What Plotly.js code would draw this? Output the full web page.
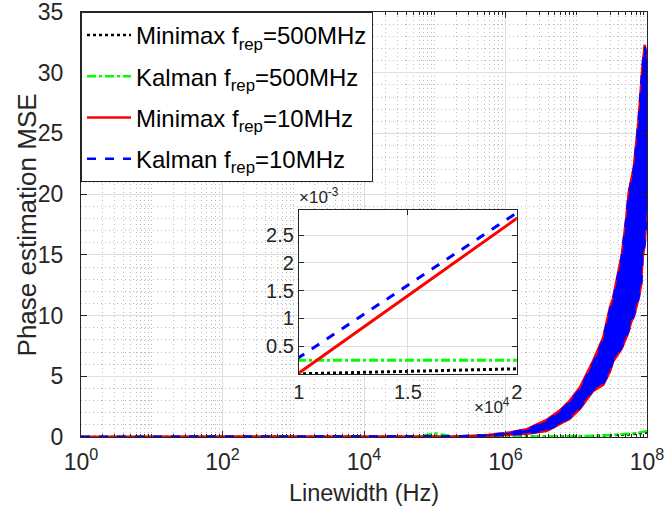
<!DOCTYPE html>
<html>
<head>
<meta charset="utf-8">
<script src="https://cdn.plot.ly/plotly-3.0.1.min.js"></script>
<style>html,body{margin:0;padding:0;background:#fff;}#chart{width:665px;height:522px;}</style>
</head>
<body>
<div id="chart"></div>
<script>
// Linewidth (Hz) sample points
const linewidth = [1, 10, 100, 1e3, 1e4, 2e4, 5e4, 1e5, 2e5, 5e5, 1e6, 2e6, 3.8e6, 5.9e6, 8.1e6, 1.12e7, 1.74e7, 2.4e7, 3.0e7, 3.3e7, 4.4e7, 5.1e7, 5.5e7, 6.0e7, 6.5e7, 7.6e7, 8.3e7, 8.6e7, 9.3e7, 1e8];
// Minimax f_rep=500MHz
const minimax500 = [0, 0, 0, 0, 0.000005, 0.000095, 0.0003, 0.0006, 0.0012, 0.003, 0.006, 0.012, 0.02, 0.03, 0.04, 0.05, 0.08, 0.1, 0.12, 0.13, 0.17, 0.2, 0.21, 0.23, 0.25, 0.29, 0.32, 0.33, 0.36, 0.38];
// Kalman f_rep=500MHz
const kalman500 = [0.00025, 0.00025, 0.00025, 0.00025, 0.00025, 0.00025, 0.00025, 0.3, 0.005, 0.01, 0.015, 0.02, 0.03, 0.04, 0.05, 0.06, 0.09, 0.12, 0.15, 0.16, 0.2, 0.24, 0.26, 0.28, 0.3, 0.36, 0.4, 0.42, 0.46, 0.5];
// Minimax f_rep=10MHz (fluctuating band: lower / upper envelope)
const minimax10Low = [0, 0, 0, 0, 0.00002, 0.0028, 0.006, 0.014, 0.03, 0.08, 0.15, 0.27, 0.5, 1.05, 1.5, 2.3, 3.8, 4.3, 5.4, 6.2, 7.3, 8.2, 8.7, 9.5, 9.9, 11.4, 12.6, 14.6, 15.9, 18.9];
const minimax10High = [0, 0, 0, 0, 0.00002, 0.0028, 0.008, 0.02, 0.05, 0.15, 0.31, 0.65, 1.4, 2.2, 3.0, 4.05, 6.3, 8.2, 10.7, 11.4, 15.0, 18.1, 20.1, 21.2, 22.2, 26.1, 29.1, 30.5, 32.3, 31.2];
// Kalman f_rep=10MHz (fluctuating band: lower / upper envelope)
const kalman10Low = [0, 0, 0, 0, 0.0003, 0.0029, 0.006, 0.015, 0.035, 0.09, 0.18, 0.3, 0.55, 1.1, 1.6, 2.4, 3.9, 4.4, 5.5, 6.3, 7.4, 8.3, 8.8, 9.6, 10, 11.5, 12.7, 14.7, 16, 19];
const kalman10High = [0, 0, 0, 0, 0.0003, 0.0029, 0.008, 0.02, 0.05, 0.14, 0.3, 0.6, 1.3, 2.1, 2.9, 3.9, 6.1, 8.0, 10.5, 11.2, 14.8, 17.9, 19.9, 21, 22, 25.9, 28.9, 30.3, 32.1, 31];

const seriesNames = ['Minimax f<sub>rep</sub>=500MHz', 'Kalman f<sub>rep</sub>=500MHz', 'Minimax f<sub>rep</sub>=10MHz', 'Kalman f<sub>rep</sub>=10MHz'];
const xTickVals = [1, 100, 1e4, 1e6, 1e8];
const xTickText = ['10<sup>0</sup>', '10<sup>2</sup>', '10<sup>4</sup>', '10<sup>6</sup>', '10<sup>8</sup>'];
const yTickVals = [0, 5, 10, 15, 20, 25, 30, 35];
const insetXTickVals = [1e4, 1.5e4, 2e4];
const insetXTickText = ['1', '1.5', '2'];
const insetYTickVals = [0.0005, 0.001, 0.0015, 0.002, 0.0025];
const insetYTickText = ['0.5', '1', '1.5', '2', '2.5'];
const yTitle = 'Phase estimation MSE';
const xTitle = 'Linewidth (Hz)';

const minorX = [];
for (let d = 0; d < 8; d++) for (let k = 2; k <= 10; k++) { if (!(k === 10 && d % 2 === 1)) minorX.push(k * Math.pow(10, d)); }

const BLACK = '#000000', GREEN = '#00ff00', RED = '#ff0000', BLUE = '#0000ff';
const traces = [];
// main
traces.push({x: linewidth, y: minimax500, type: 'scatter', mode: 'lines', name: seriesNames[0], legendgroup: 'a', line: {color: BLACK, width: 2.5, dash: 'dot'}, xaxis: 'x', yaxis: 'y'});
traces.push({x: linewidth, y: kalman500, type: 'scatter', mode: 'lines', name: seriesNames[1], legendgroup: 'b', line: {color: GREEN, width: 2.5, dash: 'dashdot'}, xaxis: 'x', yaxis: 'y'});
traces.push({x: linewidth, y: minimax10Low, type: 'scatter', mode: 'lines', name: seriesNames[2], legendgroup: 'c', line: {color: RED, width: 2.5}, xaxis: 'x', yaxis: 'y'});
traces.push({x: linewidth, y: minimax10High, type: 'scatter', mode: 'lines', showlegend: false, legendgroup: 'c', fill: 'tonexty', fillcolor: RED, line: {color: RED, width: 2.5}, xaxis: 'x', yaxis: 'y'});
traces.push({x: linewidth, y: kalman10Low, type: 'scatter', mode: 'lines', name: seriesNames[3], legendgroup: 'd', line: {color: BLUE, width: 2.5, dash: 'dash'}, xaxis: 'x', yaxis: 'y'});
traces.push({x: linewidth, y: kalman10High, type: 'scatter', mode: 'lines', showlegend: false, legendgroup: 'd', fill: 'tonexty', fillcolor: BLUE, line: {color: BLUE, width: 2.5, dash: 'dash'}, xaxis: 'x', yaxis: 'y'});
// inset
traces.push({x: linewidth, y: minimax500, type: 'scatter', mode: 'lines', showlegend: false, line: {color: BLACK, width: 3, dash: 'dot'}, xaxis: 'x2', yaxis: 'y2'});
traces.push({x: linewidth, y: kalman500, type: 'scatter', mode: 'lines', showlegend: false, line: {color: GREEN, width: 3, dash: 'dashdot'}, xaxis: 'x2', yaxis: 'y2'});
traces.push({x: linewidth, y: minimax10Low, type: 'scatter', mode: 'lines', showlegend: false, line: {color: RED, width: 3}, xaxis: 'x2', yaxis: 'y2'});
traces.push({x: linewidth, y: kalman10Low, type: 'scatter', mode: 'lines', showlegend: false, line: {color: BLUE, width: 3, dash: 'dash'}, xaxis: 'x2', yaxis: 'y2'});

const AX = '#262626';
const FONT = 'Liberation Sans, Arial, sans-serif';
const MINOR_DASH = '1px,3px';
const layout = {
  width: 665, height: 522,
  margin: {l: 81, r: 18, t: 12, b: 85},
  paper_bgcolor: '#ffffff', plot_bgcolor: '#ffffff',
  font: {family: FONT, size: 22, color: AX},
  showlegend: true,
  legend: {x: 0, y: 1, xanchor: 'left', yanchor: 'top', bgcolor: '#ffffff', bordercolor: AX, borderwidth: 1,
           font: {family: FONT, size: 24, color: '#000000'}, tracegroupgap: 7, traceorder: 'grouped', itemwidth: 44},
  xaxis: {type: 'log', range: [0, 8], domain: [0, 1], anchor: 'y',
          tickvals: xTickVals, ticktext: xTickText, ticks: 'inside', ticklen: 6, tickcolor: AX,
          showline: true, linecolor: AX, linewidth: 1, mirror: 'ticks', zeroline: false,
          showgrid: true, gridcolor: '#dedede', gridwidth: 1, ticklabeloverflow: 'allow', ticklabelstandoff: 4,
          tickfont: {family: FONT, size: 23, color: AX},
          title: {text: xTitle, font: {family: FONT, size: 23.5, color: AX}, standoff: 10},
          minor: {tickvals: minorX, ticks: 'inside', ticklen: 3, tickcolor: AX, showgrid: true, gridcolor: '#bdbdbd', griddash: MINOR_DASH, gridwidth: 1}},
  yaxis: {range: [0, 35], domain: [0, 1], anchor: 'x', tickvals: yTickVals,
          ticks: 'inside', ticklen: 6, tickcolor: AX, showline: true, linecolor: AX, linewidth: 1, mirror: 'ticks', zeroline: false,
          showgrid: true, gridcolor: '#dedede', gridwidth: 1, ticklabeloverflow: 'allow', ticklabelstandoff: 12,
          tickfont: {family: FONT, size: 23, color: AX},
          minor: {dtick: 1, ticks: '', showgrid: true, gridcolor: '#bdbdbd', griddash: MINOR_DASH, gridwidth: 1}},
  xaxis2: {range: [1e4, 2e4], domain: [0.385, 0.770], anchor: 'y2', tickvals: insetXTickVals, ticktext: insetXTickText,
           ticks: 'inside', ticklen: 5, tickcolor: AX, showline: true, linecolor: AX, linewidth: 1, mirror: 'ticks', zeroline: false,
           showgrid: true, gridcolor: '#dedede', tickfont: {family: FONT, size: 20, color: AX}},
  yaxis2: {range: [0, 0.00295], domain: [0.148, 0.534], anchor: 'x2', tickvals: insetYTickVals, ticktext: insetYTickText,
           ticks: 'inside', ticklen: 5, tickcolor: AX, showline: true, linecolor: AX, linewidth: 1, mirror: 'ticks', zeroline: false,
           showgrid: true, gridcolor: '#dedede', tickfont: {family: FONT, size: 20, color: AX}},
  annotations: [
    {xref: 'paper', yref: 'paper', x: -0.0955, y: 0.5, xanchor: 'center', yanchor: 'middle', showarrow: false, textangle: -90,
     text: yTitle, font: {family: FONT, size: 26, color: AX}},
    {xref: 'paper', yref: 'paper', x: 0.381, y: 0.536, xanchor: 'left', yanchor: 'bottom', showarrow: false,
     text: '×10<sup>-3</sup>', font: {family: FONT, size: 17, color: AX}},
    {xref: 'paper', yref: 'paper', x: 0.762, y: 0.043, xanchor: 'right', yanchor: 'bottom', showarrow: false,
     text: '×10<sup>4</sup>', font: {family: FONT, size: 17, color: AX}}
  ]
};
Plotly.newPlot('chart', traces, layout, {staticPlot: true, displayModeBar: false});
</script>
</body>
</html>
